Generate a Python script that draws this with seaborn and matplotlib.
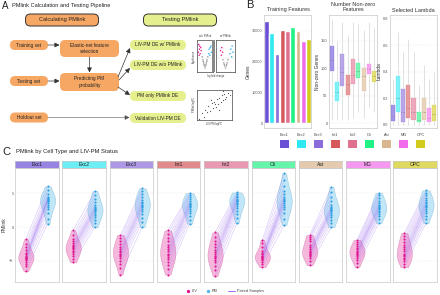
import matplotlib
matplotlib.use('Agg')
import matplotlib.pyplot as plt
import seaborn as sns
import numpy as np
import pandas as pd
from matplotlib.patches import FancyBboxPatch, Rectangle
from matplotlib.lines import Line2D

sns.set_theme(style='white')
plt.rcParams['font.family'] = ['Liberation Sans', 'DejaVu Sans']

# ---------------- data ----------------
cell_types = ['Exc1', 'Exc2', 'Exc3', 'Int1', 'Int2', 'Oli', 'Ast', 'MG', 'OPC']
cell_colors = ['#6A4FD6', '#2EE8F2', '#8A6CDA', '#D65A5C', '#E0708F',
               '#22F286', '#D9B68E', '#F06CEA', '#D2CA1C']

training_genes = [33200, 29300, 22500, 30300, 29900, 31300, 30000, 26600, 27400]

nonzero_min = [5, 5, 5, 5, 10, 20, 10, 30, 20]
nonzero_q1 = [95, 40, 68, 52, 72, 82, 58, 90, 75]
nonzero_med = [115, 57, 93, 72, 88, 95, 85, 99, 85]
nonzero_q3 = [140, 75, 125, 88, 117, 110, 100, 108, 95]
nonzero_max = [190, 150, 185, 160, 185, 180, 170, 185, 175]

lambda_min = [0.0, 0.0, 0.0, 0.0, 0.0, 0.0, 0.0, 0.0, 0.0]
lambda_q1 = [0.03, 0.10, 0.02, 0.05, 0.04, 0.02, 0.04, 0.02, 0.03]
lambda_med = [0.07, 0.20, 0.10, 0.13, 0.10, 0.04, 0.10, 0.05, 0.08]
lambda_q3 = [0.15, 0.37, 0.27, 0.30, 0.20, 0.10, 0.20, 0.13, 0.15]
lambda_max = [0.35, 0.70, 0.55, 0.65, 0.55, 0.30, 0.45, 0.35, 0.40]

liv_exc1 = [-6.5, -5.8, -5.4, -5.1, -4.9, -4.7, -4.6, -4.5, -4.4, -4.2, -4.0, -3.8, -3.4, -3.0, -2.5, -1.8]
pm_exc1 = [0.5, 1.2, 2.0, 2.6, 3.0, 3.3, 3.6, 3.8, 3.9, 4.0, 4.1, 4.3, 4.5, 4.9, 5.4, 6.0]
liv_exc2 = [-5.2, -4.7, -4.3, -4.0, -3.7, -3.5, -3.3, -3.1, -3.0, -2.8, -2.6, -2.4, -2.1, -1.7, -1.2, -0.5]
pm_exc2 = [0.0, 0.6, 1.1, 1.5, 1.8, 2.1, 2.3, 2.5, 2.6, 2.8, 3.0, 3.3, 3.7, 4.2, 4.7, 5.3]
liv_exc3 = [-7.0, -6.0, -5.4, -5.0, -4.6, -4.3, -4.1, -3.9, -3.7, -3.5, -3.2, -2.9, -2.5, -2.1, -1.6, -1.2]
pm_exc3 = [0.0, 0.8, 1.4, 1.9, 2.3, 2.6, 2.9, 3.1, 3.3, 3.5, 3.7, 4.0, 4.4, 4.8, 5.3, 5.7]
liv_int1 = [-7.0, -6.2, -5.6, -5.1, -4.7, -4.4, -4.1, -3.9, -3.6, -3.3, -3.0, -2.6, -2.1, -1.6, -1.0, -0.5]
pm_int1 = [0.5, 1.1, 1.6, 2.0, 2.4, 2.7, 2.9, 3.1, 3.2, 3.4, 3.6, 3.8, 4.1, 4.4, 4.7, 5.0]
liv_int2 = [-7.2, -6.3, -5.7, -5.2, -4.9, -4.6, -4.4, -4.2, -4.0, -3.7, -3.4, -3.0, -2.5, -2.0, -1.4, -0.8]
pm_int2 = [0.6, 1.3, 1.9, 2.4, 2.8, 3.1, 3.4, 3.6, 3.8, 3.9, 4.0, 4.2, 4.4, 4.6, 4.8, 5.1]
liv_oli = [-5.9, -5.4, -5.1, -4.9, -4.7, -4.6, -4.5, -4.4, -4.3, -4.2, -4.0, -3.8, -3.5, -3.0, -2.4, -1.9]
pm_oli = [0.3, 1.2, 2.0, 2.6, 3.0, 3.3, 3.6, 3.8, 4.0, 4.2, 4.4, 4.8, 5.3, 6.0, 6.9, 7.9]
liv_ast = [-5.6, -5.0, -4.6, -4.3, -4.1, -3.9, -3.8, -3.7, -3.5, -3.3, -3.0, -2.6, -2.0, -1.7, -1.5, -1.2]
pm_ast = [0.0, 0.6, 1.1, 1.5, 1.8, 2.1, 2.3, 2.5, 2.6, 2.8, 3.0, 3.3, 3.8, 4.4, 5.1, 5.9]
liv_mg = [-5.9, -5.3, -4.9, -4.6, -4.3, -4.1, -3.9, -3.8, -3.7, -3.5, -3.3, -3.1, -2.8, -2.5, -2.2, -1.9]
pm_mg = [0.6, 1.2, 1.6, 1.9, 2.2, 2.4, 2.6, 2.8, 2.9, 3.1, 3.3, 3.6, 3.9, 4.3, 4.7, 5.0]
liv_opc = [-5.9, -5.4, -5.0, -4.7, -4.5, -4.3, -4.1, -3.9, -3.6, -3.3, -3.0, -2.6, -2.2, -1.8, -1.3, -0.9]
pm_opc = [0.6, 1.2, 1.7, 2.1, 2.4, 2.7, 2.9, 3.1, 3.3, 3.5, 3.7, 4.0, 4.3, 4.7, 5.0, 5.4]

# inset volcano (w/o PMlink, w/ PMlink) and scatter
volc_wo_x = [-1.8, -1.5, -1.6, -1.2, -1.9, -1.4, -1.1, -1.7, 1.2, 1.5, 1.8, 1.4, 1.1, 1.7,
             -0.6, -0.4, -0.2, 0.0, 0.2, 0.4, 0.6, -0.8, 0.8, -0.3, 0.3, -0.5, 0.5]
volc_wo_y = [0.85, 0.8, 0.7, 0.75, 0.6, 0.55, 0.65, 0.5, 0.7, 0.75, 0.6, 0.5, 0.55, 0.8,
             0.35, 0.25, 0.15, 0.08, 0.15, 0.25, 0.35, 0.45, 0.45, 0.2, 0.2, 0.3, 0.3]
volc_wo_grp = ['LIV'] * 8 + ['PM'] * 6 + ['ns'] * 13
volc_w_x = [-0.9, -1.2, -0.7, -1.0, 1.3, 1.6, 1.1, 1.8, 1.5,
            -0.6, -0.4, -0.2, 0.0, 0.2, 0.4, 0.6, -0.3, 0.3]
volc_w_y = [0.75, 0.65, 0.6, 0.5, 0.7, 0.8, 0.55, 0.6, 0.45,
            0.35, 0.25, 0.15, 0.08, 0.15, 0.25, 0.35, 0.2, 0.2]
volc_w_grp = ['LIV'] * 4 + ['PM'] * 5 + ['ns'] * 9
scatter_x = [-1.5, -1.2, -1.0, -0.9, -0.7, -0.6, -0.5, -0.3, -0.2, -0.1, 0.0, 0.1, 0.2,
             0.3, 0.4, 0.5, 0.6, 0.7, 0.8, 0.9, 1.0, 1.2, 1.4, -0.4, 0.35, 0.75]
scatter_y = [-1.0, -0.6, -0.9, -0.3, -0.5, 0.0, -0.4, 0.2, -0.2, 0.3, 0.1, -0.1, 0.5,
             0.1, 0.6, 0.3, 0.8, 0.4, 0.9, 0.5, 0.7, 1.0, 0.8, 0.4, -0.3, 1.1]

# ---------------- figure ----------------
W, H = 440, 295
fig = plt.figure(figsize=(4.4, 2.95), dpi=100)
fig.patch.set_facecolor('white')


def ax_px(x0, y0, x1, y1, **kw):
    return fig.add_axes([x0 / W, 1 - y1 / H, (x1 - x0) / W, (y1 - y0) / H], **kw)


def style_frame(ax, grid=True):
    ax.set_facecolor('white')
    for s in ax.spines.values():
        s.set_color('#C8C8C8')
        s.set_linewidth(0.5)
    if grid:
        ax.grid(True, linestyle=':', color='#DADADA', linewidth=0.35)
        ax.set_axisbelow(True)
    ax.tick_params(axis='both', labelsize=2.8, length=0, pad=1, colors='#555555')
    ax.set_xlabel('')


# ---- Panel B: bar chart ----
axb = ax_px(264, 15, 311, 128)
sns.barplot(x=cell_types, y=training_genes, hue=cell_types, palette=cell_colors,
            order=cell_types, hue_order=cell_types, legend=False, width=0.9,
            dodge=False, saturation=1, ax=axb)
style_frame(axb)
axb.set_ylim(-1600, 35200)
axb.set_yticks([0, 10000, 20000, 30000])
axb.set_xticks([])
axb.set_ylabel('Genes', fontsize=3.5, labelpad=1, color='#333333')


def box_df(mins, q1s, meds, q3s, maxs):
    rows = []
    for i, c in enumerate(cell_types):
        for v in (mins[i], q1s[i], meds[i], q3s[i], maxs[i]):
            rows.append((c, v))
    return pd.DataFrame(rows, columns=['cell', 'val'])


def draw_box(ax, df):
    sns.boxplot(data=df, x='cell', y='val', hue='cell', order=cell_types,
                hue_order=cell_types, palette=cell_colors, legend=False,
                whis=(0, 100), width=0.8, fliersize=0, linewidth=0.4,
                showcaps=False, saturation=1, dodge=False, ax=ax,
                whiskerprops=dict(color='#D4D4D4', linewidth=0.5),
                medianprops=dict(color='#666666', linewidth=0.4, linestyle=':'))
    for p in ax.patches:
        fc = p.get_facecolor()
        p.set_facecolor((fc[0], fc[1], fc[2], 0.6))
        p.set_edgecolor((fc[0], fc[1], fc[2], 0.6))
        p.set_linewidth(0.3)


axn = ax_px(329, 15, 377, 128)
draw_box(axn, box_df(nonzero_min, nonzero_q1, nonzero_med, nonzero_q3, nonzero_max))
style_frame(axn)
axn.set_ylim(-9, 197)
axn.set_yticks([0, 50, 100, 150])
axn.set_xticks([])
axn.set_ylabel('Non-zero Genes', fontsize=3.5, labelpad=1, color='#333333')

axl = ax_px(390, 15, 437, 128)
draw_box(axl, box_df(lambda_min, lambda_q1, lambda_med, lambda_q3, lambda_max))
style_frame(axl)
axl.set_ylim(-0.023, 0.83)
axl.set_yticks([0.0, 0.2, 0.4, 0.6, 0.8])
axl.set_xticks([])
axl.set_ylabel('Lambda', fontsize=3.5, labelpad=1, color='#333333')

# ---- Panel C: violins ----
liv_by_cell = dict(zip(cell_types, [liv_exc1, liv_exc2, liv_exc3, liv_int1, liv_int2,
                                    liv_oli, liv_ast, liv_mg, liv_opc]))
pm_by_cell = dict(zip(cell_types, [pm_exc1, pm_exc2, pm_exc3, pm_int1, pm_int2,
                                   pm_oli, pm_ast, pm_mg, pm_opc]))
violin_pal = {'LIV': '#F07CC2', 'PM': '#8FD3F2'}
point_pal = {'LIV': '#E2168E', 'PM': '#2A9FE2'}

for i, c in enumerate(cell_types):
    x0 = 15 + i * 47.3
    x1 = x0 + 43.5
    ax = ax_px(x0, 168, x1, 282)
    liv = liv_by_cell[c]
    pm = pm_by_cell[c]
    d = pd.DataFrame({'status': ['LIV'] * len(liv) + ['PM'] * len(pm),
                      'value': liv + pm})
    for st in ['LIV', 'PM']:
        sub = d[d['status'] == st]
        sns.violinplot(data=sub, x='status', y='value', order=['LIV', 'PM'],
                       color=violin_pal[st], cut=0, inner=None,
                       density_norm='width', width=0.7, linewidth=0.4, bw_adjust=1.25,
                       saturation=1, ax=ax)
    for col in ax.collections:
        fc = col.get_facecolor()[0]
        col.set_facecolor((fc[0], fc[1], fc[2], 0.55))
        col.set_edgecolor((fc[0] * 0.85, fc[1] * 0.85, fc[2] * 0.85, 0.6))
    for a, b in zip(liv, pm):
        ax.plot([0, 1], [a, b], color='#9C6CF0', alpha=0.4, lw=0.4, zorder=3)
    for st in ['LIV', 'PM']:
        sub = d[d['status'] == st]
        sns.stripplot(data=sub, x='status', y='value', order=['LIV', 'PM'],
                      color=point_pal[st], jitter=False, size=1.5,
                      linewidth=0, ax=ax, zorder=4)
    style_frame(ax)
    ax.set_xlim(-0.5, 1.5)
    ax.set_ylim(-8.1, 8.7)
    ax.set_xticks([])
    ax.set_yticks([-5, 0, 5])
    ax.set_ylabel('')
    if i == 0:
        ax.set_ylabel('PMlink', fontsize=3.5, labelpad=2, color='#333333')
    else:
        ax.set_yticklabels([])
    sax = ax_px(x0, 161, x1, 168)
    sax.set_xticks([]); sax.set_yticks([])
    sax.set_facecolor(cell_colors[i])
    sax.patch.set_alpha(0.7)
    for s in sax.spines.values():
        s.set_color('#C8C8C8'); s.set_linewidth(0.5)
    sax.text(0.5, 0.5, c, transform=sax.transAxes, ha='center', va='center',
             fontsize=3.6, color='#222222')

# ---- Panel A insets ----
vcol = {'LIV': '#E8198F', 'PM': '#2AB0E8', 'ns': '#9A9A9A'}
for (xa, xb), xs, ys, gs, ttl in [((197, 213), volc_wo_x, volc_wo_y, volc_wo_grp, 'w/o PMlink'),
                                  ((216, 235), volc_w_x, volc_w_y, volc_w_grp, 'w/ PMlink')]:
    vax = ax_px(xa, 40, xb, 72)
    sns.scatterplot(x=xs, y=ys, hue=gs, palette=vcol, s=1.2, linewidth=0,
                    legend=False, ax=vax)
    vax.set_xlim(-2.3, 2.3); vax.set_ylim(-0.05, 1.0)
    vax.set_xticks([]); vax.set_yticks([])
    vax.axhline(0.42, color='#888888', lw=0.25, ls=':')
    for s in vax.spines.values():
        s.set_color('#444444'); s.set_linewidth(0.5)
    vax.text(0.5, 1.05, ttl, transform=vax.transAxes, ha='center', va='bottom',
             fontsize=1.8, color='#333333')
sax2 = ax_px(212, 40, 215, 72)
sax2.set_facecolor('#8A8A8A'); sax2.set_xticks([]); sax2.set_yticks([])
for s in sax2.spines.values():
    s.set_visible(False)

scax = ax_px(197, 90, 232, 120)
sns.scatterplot(x=scatter_x, y=scatter_y, color='#555555', s=0.8, linewidth=0, ax=scax)
scax.set_xticks([]); scax.set_yticks([])
for s in scax.spines.values():
    s.set_color('#444444'); s.set_linewidth(0.5)

# ---------------- overlay for annotations ----------------
ov = fig.add_axes([0, 0, 1, 1], zorder=-1)
ov.set_xlim(0, W); ov.set_ylim(H, 0); ov.axis('off')


def fbox(cx, cy, w, h, text, fc, ec='none', lw=0.0, fs=3.4):
    p = FancyBboxPatch((cx - w / 2, cy - h / 2), w, h,
                       boxstyle='round,pad=0,rounding_size=%.2f' % min(h / 2, 5),
                       fc=fc, ec=ec, lw=lw)
    ov.add_patch(p)
    ov.text(cx, cy, text, ha='center', va='center', fontsize=fs, color='#222222',
            linespacing=1.3)


orange = '#F6A764'
yellow = '#E6EF8E'
ov.text(2, 6, 'A', fontsize=7, va='center', ha='left', color='#222222')
ov.text(12, 5.5, 'PMlink Calculation and Testing Pipeline', fontsize=4.1, va='center',
        ha='left', color='#222222')
fbox(62, 20, 73, 12, 'Calculating PMlink', orange, ec='#333333', lw=0.7, fs=4.1)
fbox(180, 20, 73, 12, 'Testing PMlink', yellow, ec='#333333', lw=0.7, fs=4.1)
fbox(29, 45, 38, 10, 'Training set', orange)
fbox(89.5, 48.5, 59, 17, 'Elastic-net feature\nselection', orange)
fbox(29, 81, 38, 10, 'Testing set', orange)
fbox(89.5, 82, 59, 18, 'Predicting PM\nprobability', orange)
fbox(29, 117.5, 38, 10, 'Holdout set', orange)
fbox(158, 45, 56, 10, 'LIV-PM DE w/ PMlink', yellow)
fbox(158, 65, 56, 10, 'LIV-PM DE w/o PMlink', yellow)
fbox(158, 96, 56, 10, 'PM only PMlink DE', yellow)
fbox(158, 118, 56, 10, 'Validation LIV-PM DE', yellow)


def arrow(p0, p1, color='#333333', lw=0.5):
    ov.annotate('', xy=p1, xytext=p0,
                arrowprops=dict(arrowstyle='-|>,head_length=0.7,head_width=0.35',
                                mutation_scale=4, lw=lw, color=color,
                                shrinkA=0, shrinkB=0))


arrow((48, 45), (59.5, 45))
arrow((89.5, 57), (89.5, 72.5))
arrow((48, 81), (59.5, 81))
arrow((118, 77), (130, 48))
arrow((119, 80), (130, 68))
arrow((118, 87), (130, 95))
arrow((48, 117.5), (129.5, 117.5), color='#555555', lw=0.4)

ov.text(194, 56, 'Significance', rotation=90, fontsize=1.8, ha='center', va='center',
        color='#333333')
ov.text(216, 75.5, 'log fold-change', fontsize=1.8, ha='center', va='center', color='#333333')
ov.text(194, 105, 'PMlink logFC', rotation=90, fontsize=1.8, ha='center', va='center',
        color='#333333')
ov.text(214, 123.5, 'LIV-PM logFC', fontsize=1.8, ha='center', va='center', color='#333333')

# Panel B labels and legend
ov.text(246, 5, 'B', fontsize=8, va='center', ha='left', color='#222222')
ov.text(288, 10, 'Training Features', fontsize=4.0, ha='center', va='center', color='#333333')
ov.text(353, 7, 'Number Non-zero\nFeatures', fontsize=4.0, ha='center', va='center',
        color='#333333', linespacing=1.1)
ov.text(413, 10, 'Selected Lambda', fontsize=4.0, ha='center', va='center', color='#333333')
for i, (c, col) in enumerate(zip(cell_types, cell_colors)):
    cx = 284 + i * 17.1
    ov.text(cx, 135, c, fontsize=2.8, ha='center', va='center', color='#444444')
    ov.add_patch(Rectangle((cx - 4.5, 139.5), 9, 8, fc=col, ec='none'))

# Panel C labels and legend
ov.text(2, 152, 'C', fontsize=8, va='center', ha='left', color='#222222')
ov.text(16, 152, 'PMlink by Cell Type and LIV-PM Status', fontsize=4.2, va='center',
        ha='left', color='#222222')
ov.scatter([188], [291], s=6, color='#E2168E', linewidth=0)
ov.text(191.5, 291, 'LIV', fontsize=2.8, va='center', ha='left', color='#444444')
ov.scatter([208], [291], s=6, color='#55B8EC', linewidth=0)
ov.text(211.5, 291, 'PM', fontsize=2.8, va='center', ha='left', color='#444444')
ov.add_line(Line2D([228, 235], [291, 291], color='#9C6CF0', lw=0.7))
ov.text(237, 291, 'Paired Samples', fontsize=2.8, va='center', ha='left', color='#444444')

fig.savefig('out.png', dpi=100)
